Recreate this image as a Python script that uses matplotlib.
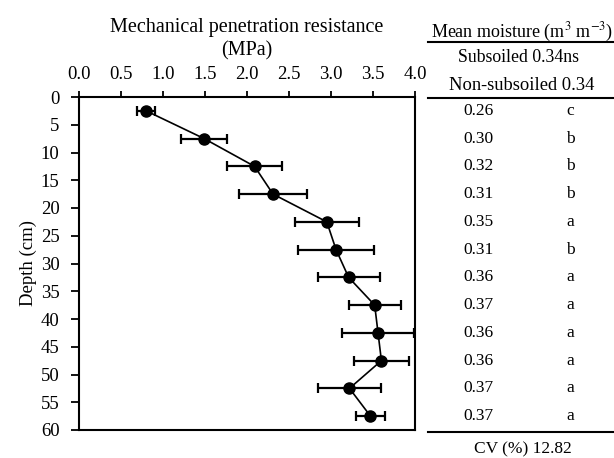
import matplotlib
matplotlib.use("Agg")
import matplotlib.pyplot as plt
import matplotlib.transforms as mtransforms

plt.rcParams['font.family'] = ['Liberation Serif', 'DejaVu Serif']

depth = [2.5, 7.5, 12.5, 17.5, 22.5, 27.5, 32.5, 37.5, 42.5, 47.5, 52.5, 57.5]
resistance = [0.80, 1.49, 2.09, 2.31, 2.95, 3.06, 3.21, 3.52, 3.56, 3.60, 3.22, 3.47]
err = [0.11, 0.27, 0.33, 0.40, 0.38, 0.45, 0.37, 0.31, 0.43, 0.33, 0.37, 0.17]
moisture = ['0.26', '0.30', '0.32', '0.31', '0.35', '0.31', '0.36', '0.37', '0.36', '0.36', '0.37', '0.37']
letters = ['c', 'b', 'b', 'b', 'a', 'b', 'a', 'a', 'a', 'a', 'a', 'a']
xticks = [0.0, 0.5, 1.0, 1.5, 2.0, 2.5, 3.0, 3.5, 4.0]
yticks = [0, 5, 10, 15, 20, 25, 30, 35, 40, 45, 50, 55, 60]

W, H = 614, 458
fig = plt.figure(figsize=(W / 100, H / 100), dpi=100)
left, right, top, bottom = 79, 415, 97, 430
ax = fig.add_axes([left / W, 1 - bottom / H, (right - left) / W, (bottom - top) / H])

ax.errorbar(resistance, depth, xerr=err, fmt='-o', color='black', ecolor='black',
            markersize=8.0, linewidth=1.2, elinewidth=1.6, capsize=3.5, capthick=1.6)

ax.set_xlim(0, 4.0)
ax.set_ylim(60, 0)
ax.set_xticks(xticks)
ax.set_xticklabels([f'{v:.1f}' for v in xticks])
ax.set_yticks(yticks)
ax.xaxis.tick_top()
ax.xaxis.set_label_position('top')
ax.tick_params(axis='both', direction='out', width=1.3, labelsize=13.5)
ax.tick_params(axis='x', length=4, pad=6)
ax.tick_params(axis='y', length=6, pad=8)
for s in ax.spines.values():
    s.set_linewidth(1.5)
ax.set_xlabel('Mechanical penetration resistance\n(MPa)', fontsize=14.5, labelpad=8, linespacing=1.25)
ax.set_ylabel('Depth (cm)', fontsize=13.5, labelpad=3)

# Table on right
def fy(px):
    return 1 - px / H

fs = 12.5
fig.text(522 / W, fy(32), 'Mean moisture (m$^3$ m$^{-3}$)', ha='center', va='center', fontsize=13,
         math_fontfamily='stix')
fig.add_artist(plt.Line2D([428 / W, 1.0], [fy(42), fy(42)], color='black', linewidth=1.5))
fig.text(518 / W, fy(58), 'Subsoiled 0.34ns', ha='center', va='center', fontsize=12.8)
fig.text(522 / W, fy(86), 'Non-subsoiled 0.34', ha='center', va='center', fontsize=13.3)
fig.add_artist(plt.Line2D([428 / W, 1.0], [fy(98), fy(98)], color='black', linewidth=1.5))

trans = mtransforms.blended_transform_factory(fig.transFigure, ax.transData)
for d, m, l in zip(depth, moisture, letters):
    fig.text(478 / W, d, m, ha='center', va='center', fontsize=fs, transform=trans)
    fig.text(570 / W, d, l, ha='center', va='center', fontsize=fs, transform=trans)

fig.add_artist(plt.Line2D([428 / W, 1.0], [fy(432), fy(432)], color='black', linewidth=1.5))
fig.text(523 / W, fy(449), 'CV (%) 12.82', ha='center', va='center', fontsize=fs)

fig.savefig('out.png', dpi=100)
